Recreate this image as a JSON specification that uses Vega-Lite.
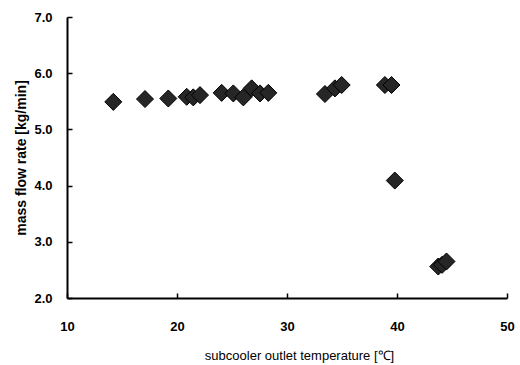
{
  "$schema": "https://vega.github.io/schema/vega-lite/v6.json",
  "width": 440,
  "height": 281,
  "autosize": {"type": "none"},
  "padding": {"left": 67, "top": 17, "right": 13, "bottom": 67},
  "background": "white",
  "config": {"view": {"stroke": null}},
  "data": {"values": [
    {"t": 14.21, "m": 5.49},
    {"t": 17.09, "m": 5.54},
    {"t": 19.21, "m": 5.55},
    {"t": 20.88, "m": 5.58},
    {"t": 21.48, "m": 5.57},
    {"t": 22.09, "m": 5.61},
    {"t": 24.06, "m": 5.65},
    {"t": 25.12, "m": 5.64},
    {"t": 26.03, "m": 5.57},
    {"t": 26.79, "m": 5.73},
    {"t": 27.55, "m": 5.64},
    {"t": 28.30, "m": 5.65},
    {"t": 33.45, "m": 5.63},
    {"t": 34.36, "m": 5.73},
    {"t": 34.97, "m": 5.79},
    {"t": 38.9, "m": 5.79},
    {"t": 39.5, "m": 5.79},
    {"t": 39.8, "m": 4.09},
    {"t": 43.75, "m": 2.56},
    {"t": 44.1, "m": 2.59},
    {"t": 44.5, "m": 2.65}
  ]},
  "mark": {"type": "point", "shape": "diamond", "filled": true, "size": 290, "fill": "#262626", "stroke": "#000000", "strokeWidth": 1, "opacity": 1},
  "encoding": {
    "x": {
      "field": "t", "type": "quantitative",
      "scale": {"domain": [10, 50], "nice": false, "zero": false},
      "axis": {
        "title": "subcooler outlet temperature [\u2103]",
        "values": [10, 20, 30, 40, 50],
        "grid": false,
        "labelFlush": false,
        "domainColor": "#000", "domainWidth": 2,
        "tickColor": "#000", "tickWidth": 1.5, "tickSize": -5,
        "labelPadding": 27,
        "labelFont": "Liberation Sans", "labelFontSize": 13, "labelFontWeight": "bold", "labelColor": "#000",
        "titleFont": "Liberation Sans", "titleFontSize": 13, "titleFontWeight": "normal", "titleColor": "#000",
        "titlePadding": 16,
        "titleX": 232
      }
    },
    "y": {
      "field": "m", "type": "quantitative",
      "scale": {"domain": [2, 7], "nice": false, "zero": false},
      "axis": {
        "title": "mass flow rate [kg/min]",
        "values": [2, 3, 4, 5, 6, 7],
        "format": ".1f",
        "grid": false,
        "labelFlush": false,
        "domainColor": "#000", "domainWidth": 2,
        "tickColor": "#000", "tickWidth": 1.5, "tickSize": -5,
        "labelPadding": 20,
        "labelFont": "Liberation Sans", "labelFontSize": 13, "labelFontWeight": "bold", "labelColor": "#000",
        "titleFont": "Liberation Sans", "titleFontSize": 14, "titleFontWeight": "bold", "titleColor": "#000",
        "titlePadding": 5
      }
    }
  }
}
